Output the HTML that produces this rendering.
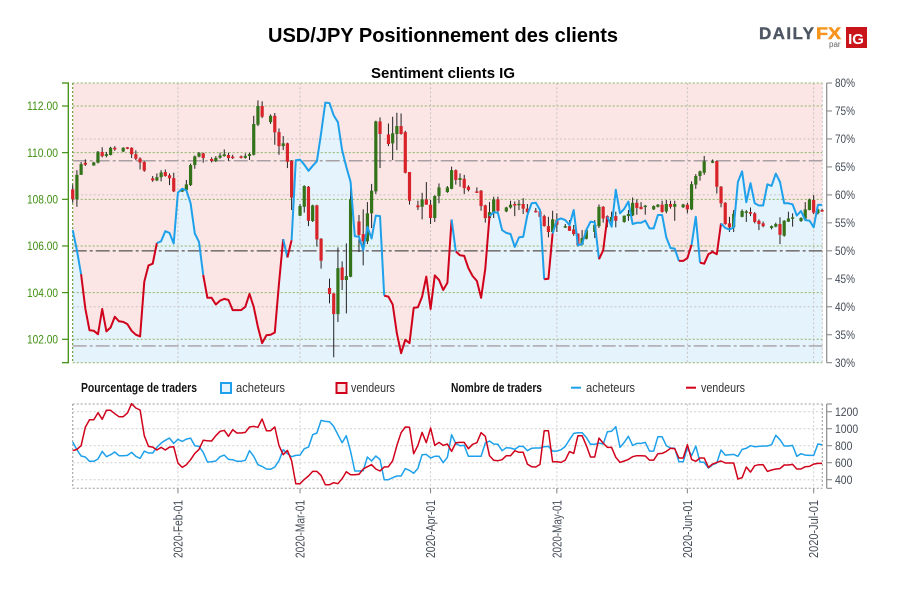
<!DOCTYPE html>
<html lang="fr">
<head>
<meta charset="utf-8">
<title>USD/JPY Positionnement des clients</title>
<style>
html,body{margin:0;padding:0;background:#fff;}
svg{display:block;}
text{font-family:"Liberation Sans Narrow","Liberation Sans",sans-serif;}
.ttl{font-family:"Liberation Sans",sans-serif;font-weight:bold;fill:#000;}
.lg{font-size:12.5px;fill:#333;}
.lgb{font-size:12.5px;font-weight:bold;fill:#111;}
</style>
</head>
<body>
<svg id="chart" xmlns="http://www.w3.org/2000/svg" width="900" height="600" viewBox="0 0 900 600">
  <rect width="900" height="600" fill="#fff"/>
  <text class="ttl" x="443" y="42" text-anchor="middle" font-size="20" textLength="350" lengthAdjust="spacingAndGlyphs">USD/JPY Positionnement des clients</text>
  <text class="ttl" x="443" y="78" text-anchor="middle" font-size="15" textLength="144" lengthAdjust="spacingAndGlyphs">Sentiment clients IG</text>
  <g>
    <text x="759" y="39" style="font-family:'Liberation Sans',sans-serif" font-weight="bold" font-size="17" fill="#4d5662" stroke="#4d5662" stroke-width="0.4" textLength="55">DAILY</text>
    <text x="816" y="39" style="font-family:'Liberation Sans',sans-serif" font-weight="bold" font-size="17" fill="#f7941d" stroke="#f7941d" stroke-width="0.5" textLength="25" lengthAdjust="spacingAndGlyphs">FX</text>
    <text x="829" y="47" style="font-family:'Liberation Sans',sans-serif" font-size="8" fill="#666">par</text>
    <rect x="846" y="27" width="21" height="21" fill="#c9141c"/>
    <text x="856" y="44" text-anchor="middle" style="font-family:'Liberation Sans',sans-serif" font-weight="bold" font-size="15" fill="#fff">IG</text>
  </g>
  <g id="main-plot"></g>
  <g id="legend">
    <text class="lgb" x="81" y="392" textLength="116" lengthAdjust="spacingAndGlyphs">Pourcentage de traders</text>
    <rect x="221" y="383" width="10" height="10" fill="#e5f3fc" stroke="#1ea1ea" stroke-width="2"/>
    <text class="lg" x="236" y="392" textLength="49" lengthAdjust="spacingAndGlyphs">acheteurs</text>
    <rect x="336.5" y="383" width="10" height="10" fill="#fbe5e5" stroke="#d0021b" stroke-width="2"/>
    <text class="lg" x="351" y="392" textLength="44" lengthAdjust="spacingAndGlyphs">vendeurs</text>
    <text class="lgb" x="451" y="392" textLength="91" lengthAdjust="spacingAndGlyphs">Nombre de traders</text>
    <line x1="571" x2="581" y1="387.7" y2="387.7" stroke="#1ea1ea" stroke-width="2"/>
    <text class="lg" x="586" y="392" textLength="49" lengthAdjust="spacingAndGlyphs">acheteurs</text>
    <line x1="686" x2="696" y1="387.7" y2="387.7" stroke="#d0021b" stroke-width="2"/>
    <text class="lg" x="701" y="392" textLength="44" lengthAdjust="spacingAndGlyphs">vendeurs</text>
  </g>
  <g id="lower-plot"></g>
</svg>
<script>
const startDate = '2020-01-07';
const tickDates = ['2020-02-01','2020-03-01','2020-04-01','2020-05-01','2020-06-01','2020-07-01'];
const tickLabels = ['2020-Feb-01','2020-Mar-01','2020-Apr-01','2020-May-01','2020-Jun-01','2020-Jul-01'];
const priceTicks = [112,110,108,106,104,102];
const percentTicks = [80,75,70,65,60,55,50,45,40,35,30];
const percentGrid = [70,60,40];
const percentRefLevels = [66.1,50,33];
const countTicks = [1200,1000,800,600,400];

const priceOpen = [
108.43,108.00,109.05,109.57,null,109.45,109.57,
110.03,109.86,109.90,110.21,null,110.05,110.23,
110.21,109.93,109.75,109.60,null,108.90,108.81,
108.95,109.17,109.03,108.91,null,108.33,108.40,
108.61,109.47,109.83,109.97,null,109.73,109.64,
109.78,109.85,109.90,109.83,null,109.84,109.78,
109.86,109.91,111.20,112.00,null,111.31,111.58,
110.88,110.28,110.40,109.65,null,107.30,107.68,
108.54,107.07,107.74,106.31,null,104.20,103.97,
103.08,105.08,104.54,104.68,null,107.05,106.51,
106.20,107.40,108.34,111.34,null,110.78,110.40,
110.80,111.14,110.88,109.17,null,107.74,107.68,
108.00,107.77,107.20,108.14,null,108.31,108.45,
109.25,108.83,108.88,108.54,null,108.34,108.37,
107.74,107.20,107.43,108.00,null,107.48,107.65,
107.80,107.77,107.80,107.60,null,107.51,107.48,
107.28,106.85,106.60,107.13,null,106.80,106.85,
106.71,106.53,106.06,106.31,null,106.60,106.85,
107.68,107.28,107.05,107.28,null,107.03,107.28,
107.31,107.85,107.68,107.71,null,107.57,107.68,
107.77,107.48,107.80,107.68,null,107.66,107.77,
107.57,108.63,109.00,109.14,null,109.57,109.64,
108.54,107.85,106.97,106.80,null,107.25,107.44,
107.45,107.40,107.08,106.97,null,106.77,106.83,
106.94,106.44,107.04,107.18,null,107.07,107.17,
107.54,107.97,107.40,107.54];
const priceHigh = [
108.63,109.25,109.60,109.71,null,109.61,110.07,
110.23,110.03,110.25,110.28,null,110.23,110.24,
110.23,110.10,109.80,109.63,null,109.00,109.11,
109.25,109.28,109.11,109.14,null,108.45,108.83,
109.53,109.88,110.03,110.00,null,109.80,109.85,
110.00,110.14,110.00,109.91,null,109.88,109.97,
110.00,111.58,112.24,112.20,null,111.64,111.70,
111.04,110.71,110.43,109.68,null,107.80,108.60,
108.57,107.77,107.77,106.34,null,104.60,103.97,
105.94,105.34,106.11,108.54,null,107.33,107.57,
107.88,108.66,111.37,111.51,null,111.25,111.54,
111.71,111.68,110.94,109.17,null,107.94,108.28,
108.74,107.97,108.17,108.68,null,108.57,109.40,
109.28,109.11,109.05,108.60,null,108.51,108.40,
107.77,107.88,108.11,108.11,null,107.68,107.94,
107.91,107.97,108.05,107.80,null,107.63,107.57,
107.34,107.25,107.51,107.40,null,106.94,107.11,
106.90,106.54,106.68,106.75,null,107.11,107.78,
107.71,107.31,107.47,107.47,null,107.31,107.54,
108.08,108.00,107.88,107.76,null,107.74,107.80,
107.94,107.97,107.94,107.94,null,107.81,107.85,
108.77,109.08,109.23,109.86,null,109.71,109.67,
108.57,107.88,107.25,107.54,null,107.57,107.54,
107.65,107.45,107.14,107.05,null,106.88,107.00,
107.23,107.11,107.47,107.40,null,107.23,107.88,
108.03,108.18,107.61,107.60];
const priceLow = [
107.85,107.68,109.05,109.43,null,109.44,109.54,
109.80,109.80,109.88,110.08,null,110.03,110.15,
109.77,109.68,109.28,109.18,null,108.75,108.78,
108.77,108.97,108.61,108.31,null,108.31,108.37,
108.57,109.31,109.80,109.57,null,109.58,109.60,
109.74,109.83,109.65,109.73,null,109.75,109.74,
109.68,109.88,111.14,111.48,null,111.23,110.34,
109.91,110.11,109.34,107.54,null,107.28,107.43,
106.85,107.03,105.97,105.03,null,103.54,101.23,
102.74,104.11,103.11,104.66,null,105.74,105.17,
106.08,106.77,108.23,109.34,null,110.28,109.68,
110.11,110.77,109.11,107.77,null,107.54,107.14,
107.77,106.94,107.03,107.83,null,108.28,108.43,
108.63,108.54,108.23,108.34,null,108.28,107.51,
107.00,107.17,107.20,107.45,null,107.45,107.60,
107.28,107.54,107.37,107.40,null,107.43,107.23,
106.83,106.37,106.57,106.60,null,106.77,106.65,
106.44,105.97,106.03,106.28,null,106.34,106.77,
107.00,106.80,107.00,106.80,null,107.00,107.08,
107.28,107.34,107.57,107.34,null,107.54,107.65,
107.43,107.40,107.60,107.08,null,107.63,107.40,
107.54,108.45,108.80,109.05,null,109.55,108.25,
107.66,106.91,106.60,106.60,null,107.23,107.03,
107.28,106.97,106.68,106.80,null,106.71,106.80,
106.08,106.40,107.03,106.83,null,107.03,107.15,
107.53,107.37,107.35,107.46];
const priceClose = [
108.00,109.05,109.51,109.48,null,109.58,110.04,
109.85,109.94,110.21,110.14,null,110.21,110.17,
109.93,109.74,109.58,109.23,null,108.81,108.95,
109.15,109.00,108.90,108.34,null,108.45,108.64,
109.47,109.84,109.98,109.77,null,109.64,109.78,
109.88,109.93,109.77,109.78,null,109.80,109.86,
109.94,111.23,112.00,111.54,null,111.58,110.87,
110.28,110.40,109.61,108.08,null,107.71,108.57,
107.08,107.74,106.28,105.37,null,103.94,103.08,
105.05,104.54,104.71,108.00,null,106.48,106.20,
107.40,108.37,111.34,110.80,null,110.37,110.83,
111.14,110.80,109.14,107.94,null,107.66,108.00,
107.77,107.20,108.14,108.51,null,108.51,109.25,
108.83,108.91,108.48,108.40,null,108.30,107.71,
107.20,107.45,108.00,107.51,null,107.65,107.77,
107.74,107.81,107.60,107.45,null,107.47,107.25,
106.85,106.60,107.14,106.91,null,106.85,106.65,
106.51,106.03,106.34,106.68,null,106.91,107.68,
107.18,107.05,107.25,107.08,null,107.30,107.37,
107.85,107.63,107.58,107.73,null,107.71,107.77,
107.46,107.80,107.68,107.80,null,107.78,107.57,
108.65,109.00,109.20,109.63,null,109.63,108.54,
107.83,106.94,106.80,107.38,null,107.50,107.48,
107.38,107.03,106.94,106.85,null,106.85,106.94,
106.48,107.08,107.18,107.23,null,107.20,107.57,
108.00,107.43,107.57,107.48];

const buyersPercent = [
53.7,50.1,45.8,39.7,35.8,35.7,35.1,39.6,35.6,36.3,38.2,37.4,37.3,36.9,35.7,35.0,34.7,44.5,47.4,47.7,
51.4,51.7,53.5,53.2,51.3,60.4,61.1,60.8,58.5,53.1,51.6,45.7,41.6,41.6,40.4,41.1,41.4,41.2,39.4,39.4,
39.4,40.0,42.3,40.0,36.4,33.5,34.9,35.0,35.4,44.2,52.1,48.8,51.9,66.2,66.3,65.4,64.3,65.2,66.0,71.0,
76.5,76.4,74.2,73.0,68.0,65.0,62.3,52.6,52.5,50.1,54.3,52.2,56.3,56.2,42.0,41.8,40.4,35.2,31.7,34.1,
33.5,39.8,39.9,41.8,45.4,39.6,45.6,44.8,43.0,44.3,55.6,49.9,49.2,49.1,46.9,45.5,44.6,41.6,46.8,56.2,
56.9,56.8,53.7,53.2,53.0,50.7,52.4,52.5,56.4,58.5,58.6,57.3,44.9,45.0,53.1,55.5,55.8,55.5,54.6,57.3,
51.0,51.2,53.7,55.2,55.1,48.5,50.1,56.1,54.3,60.9,56.7,57.5,58.8,54.8,55.0,55.0,55.4,54.0,54.0,56.4,
56.4,52.4,50.5,50.4,48.2,48.2,48.7,51.1,56.1,47.9,47.7,49.4,49.8,49.4,54.9,54.1,53.8,54.2,62.3,64.2,
58.7,62.1,58.5,58.1,58.1,61.9,61.6,63.8,62.3,58.5,58.5,58.3,56.3,57.1,55.5,55.4,54.2,58.2,58.2];
const sellerLedSpans = [[2,20],[31,50],[51,52],[74,90],[91,99],[112,114],[125,127],[144,147],[149,154]];

const buyersCount = [
843,753,679,667,616,616,643,733,671,694,726,682,682,686,722,675,651,737,714,714,
780,831,863,890,827,875,851,878,890,800,792,722,608,612,620,671,690,639,635,616,
616,628,741,675,577,557,526,522,549,624,753,706,671,686,690,765,784,929,949,1098,
1086,1082,1027,929,835,918,733,502,502,506,667,620,679,639,400,400,424,443,443,530,
510,475,533,694,698,655,675,675,600,663,929,824,800,804,675,675,675,675,831,855,
820,816,741,777,773,757,792,792,741,769,773,773,788,792,737,737,753,792,871,945,
953,953,898,816,816,831,820,965,969,1023,780,839,910,804,827,827,839,737,737,906,
906,800,773,769,612,612,773,682,796,608,604,537,577,596,749,690,694,698,675,757,
769,800,788,792,796,796,812,922,871,796,796,804,675,706,690,686,686,820,812];
const sellersCount = [
741,757,800,1016,1106,1106,1188,1110,1216,1216,1176,1141,1141,1184,1294,1243,1220,918,792,784,
749,780,749,784,788,596,545,577,635,710,757,863,859,855,918,969,980,910,988,949,
949,957,1020,1027,1016,1114,976,976,1020,800,694,745,624,353,353,404,443,498,498,451,
341,341,365,353,412,494,459,459,463,526,553,577,526,502,549,553,624,804,953,1020,
1016,706,804,957,835,1008,804,839,804,820,733,835,839,839,765,816,835,953,910,682,
628,624,635,682,682,741,722,722,584,553,549,580,976,976,612,612,604,631,730,710,
918,918,804,667,667,890,831,780,780,663,604,620,639,671,682,682,679,631,631,706,
710,733,769,765,655,655,812,639,616,655,655,545,584,604,620,596,596,596,408,424,
549,490,565,577,577,498,514,526,530,573,573,580,526,526,553,557,584,592,592];

const NS = 'http://www.w3.org/2000/svg';
const PLOT_L = 72.7, PLOT_R = 822.3, DAY_PX = 4.21;
const MAIN_T = 83, MAIN_B = 362.7, LOW_T = 404, LOW_B = 488.3;
const BLUE = '#1ea1ea', RED = '#d0021b';
const CANDLE_GREEN = '#33731a', CANDLE_RED = '#d8232a', GRID_GREEN = '#8ab565', GRID_GREY = '#c9c3c3';
const AXIS_GREEN = '#3f8f10', AXIS_GREY = '#8a8a8a', LABEL_GREY = '#444c56';

function xDay(d){ return PLOT_L + d * DAY_PX; }
function yPrice(p){ return 106 + (112 - p) * 23.33; }
function yPercent(p){ return MAIN_T + (80 - p) * (MAIN_B - MAIN_T) / 50; }
function yCount(v){ return 411.7 + (1200 - v) * 0.0850; }
function dayOf(dateStr){ return Math.round((Date.parse(dateStr) - Date.parse(startDate)) / 86400000); }

function mk(parent, tag, attrs, txt){
  const el = document.createElementNS(NS, tag);
  for (const k in attrs) el.setAttribute(k, attrs[k]);
  if (txt !== undefined) el.textContent = txt;
  parent.appendChild(el);
  return el;
}
const main = document.getElementById('main-plot');
const low = document.getElementById('lower-plot');

/* ---------- main panel fills ---------- */
const pink = mk(main, 'rect', {x:PLOT_L, y:MAIN_T, width:PLOT_R-PLOT_L, height:MAIN_B-MAIN_T, fill:'#fbe5e5'});


let areaPts = PLOT_L + ',' + MAIN_B + ' ';
buyersPercent.forEach((v, i) => { areaPts += xDay(i).toFixed(1) + ',' + yPercent(v).toFixed(1) + ' '; });
areaPts += xDay(buyersPercent.length - 1).toFixed(1) + ',' + MAIN_B;
const blueArea = mk(main, 'polygon', {points:areaPts, fill:'#e5f3fc'});



/* ---------- main grid ---------- */
percentGrid.forEach(p => {
  const l = mk(main, 'line', {x1:PLOT_L, x2:PLOT_R, y1:yPercent(p), y2:yPercent(p), stroke:GRID_GREY, 'stroke-dasharray':'2 2.2'});
  
  
});
priceTicks.forEach(p => {
  const l = mk(main, 'line', {x1:PLOT_L, x2:PLOT_R, y1:yPrice(p), y2:yPrice(p), stroke:GRID_GREEN, 'stroke-dasharray':'2 2'});
  
  
});
tickDates.forEach(t => {
  const l = mk(main, 'line', {x1:xDay(dayOf(t)), x2:xDay(dayOf(t)), y1:MAIN_T, y2:MAIN_B, stroke:GRID_GREY, 'stroke-dasharray':'2 2.2'});
  
  
});
[MAIN_T, MAIN_B].forEach(y => {
  const l = mk(main, 'line', {x1:PLOT_L, x2:PLOT_R, y1:y, y2:y, stroke:GRID_GREEN, 'stroke-dasharray':'2 2'});
  
  
});
const leftBorder = mk(main, 'line', {x1:PLOT_L, x2:PLOT_L, y1:MAIN_T, y2:MAIN_B, stroke:'#4f8f20', 'stroke-dasharray':'2 2'});


const rightBorder = mk(main, 'line', {x1:PLOT_R, x2:PLOT_R, y1:MAIN_T, y2:MAIN_B, stroke:GRID_GREY, 'stroke-dasharray':'2 2.2'});



/* ---------- reference levels ---------- */
percentRefLevels.forEach(p => {
  const l = mk(main, 'line', {x1:PLOT_L, x2:PLOT_R, y1:yPercent(p), y2:yPercent(p), stroke:p === 50 ? '#7a7676' : '#a8a0a2', 'stroke-width':p === 50 ? 1.7 : 1.4, 'stroke-dasharray':'14 3 3 3'});
  
  
});

/* ---------- candles ---------- */
priceOpen.forEach((o, i) => {
  if (o === null) return;
  const c = priceClose[i], x = xDay(i);
  const wick = mk(main, 'line', {x1:x, x2:x, y1:yPrice(priceHigh[i]), y2:yPrice(priceLow[i]), stroke:'#222', 'stroke-width':1});
  
  
  const top = Math.min(yPrice(o), yPrice(c)), h = Math.max(1.5, Math.abs(yPrice(o) - yPrice(c)));
  const body = mk(main, 'rect', {x:x - 1.6, y:top, width:3.2, height:h, fill:c >= o ? CANDLE_GREEN : CANDLE_RED});
  
  
});

/* ---------- sentiment line ---------- */
function sellerLed(i){ return sellerLedSpans.some(s => i > s[0] && i <= s[1]); }
let runStart = 0;
for (let i = 1; i <= buyersPercent.length; i++) {
  if (i === buyersPercent.length || sellerLed(i) !== sellerLed(runStart + 1)) {
    let pts = '';
    for (let j = runStart; j < i; j++) pts += xDay(j).toFixed(1) + ',' + yPercent(buyersPercent[j]).toFixed(1) + ' ';
    const seg = mk(main, 'polyline', {points:pts, fill:'none', stroke:sellerLed(runStart + 1) ? RED : BLUE, 'stroke-width':2, 'stroke-linejoin':'round'});
    
    
    runStart = i - 1;
  }
}

/* ---------- main axes ---------- */
const leftAxis = mk(main, 'line', {x1:68.3, x2:68.3, y1:MAIN_T, y2:MAIN_B, stroke:AXIS_GREEN, 'stroke-width':1.3});


[MAIN_T, MAIN_B].forEach(y => {
  const t = mk(main, 'line', {x1:62, x2:69, y1:y, y2:y, stroke:AXIS_GREEN, 'stroke-width':1.3});
  
  
});
priceTicks.forEach(p => {
  const t = mk(main, 'line', {x1:62, x2:68, y1:yPrice(p), y2:yPrice(p), stroke:AXIS_GREEN, 'stroke-width':1.2});
  
  
  const lb = mk(main, 'text', {x:58, y:yPrice(p) + 4.2, 'text-anchor':'end', 'font-size':12, fill:AXIS_GREEN, textLength:31, lengthAdjust:'spacingAndGlyphs'}, p.toFixed(2));
  
  
});
const rightAxis = mk(main, 'line', {x1:826.7, x2:826.7, y1:MAIN_T, y2:MAIN_B, stroke:AXIS_GREY, 'stroke-width':1.2});


percentTicks.forEach(p => {
  const t = mk(main, 'line', {x1:826.7, x2:832, y1:yPercent(p), y2:yPercent(p), stroke:AXIS_GREY, 'stroke-width':1.1});
  
  
  const lb = mk(main, 'text', {x:835, y:yPercent(p) + 4.2, 'font-size':12, fill:LABEL_GREY, textLength:20, lengthAdjust:'spacingAndGlyphs'}, p + '%');
  
  
});

/* ---------- lower panel ---------- */
countTicks.forEach(v => {
  const l = mk(low, 'line', {x1:PLOT_L, x2:PLOT_R, y1:yCount(v), y2:yCount(v), stroke:'#cfcfcf', 'stroke-dasharray':'2 2.2'});
  
  
});
[LOW_T, LOW_B].forEach(y => {
  const l = mk(low, 'line', {x1:PLOT_L, x2:PLOT_R, y1:y, y2:y, stroke:'#9a9a9a', 'stroke-dasharray':'2 2'});
  
  
});
[PLOT_L, PLOT_R].forEach(x => {
  const l = mk(low, 'line', {x1:x, x2:x, y1:LOW_T, y2:LOW_B, stroke:'#9a9a9a', 'stroke-dasharray':'2 2'});
  
  
});
tickDates.forEach((t, k) => {
  const x = xDay(dayOf(t));
  const l = mk(low, 'line', {x1:x, x2:x, y1:LOW_T, y2:LOW_B, stroke:'#cfcfcf', 'stroke-dasharray':'2 2.2'});
  
  
  const tk = mk(low, 'line', {x1:x, x2:x, y1:LOW_B, y2:LOW_B + 5, stroke:AXIS_GREY, 'stroke-width':1.1});
  
  
  const lb = mk(low, 'text', {x:0, y:0, transform:'translate(' + (x + 4.5) + ',500) rotate(-90)', 'text-anchor':'end', 'font-size':12.5, fill:LABEL_GREY, textLength:58, lengthAdjust:'spacingAndGlyphs'}, tickLabels[k]);
  
  
});
function countPoints(arr){ return arr.map((v, i) => xDay(i).toFixed(1) + ',' + yCount(v).toFixed(1)).join(' '); }
const buyersLine = mk(low, 'polyline', {points:countPoints(buyersCount), fill:'none', stroke:BLUE, 'stroke-width':1.5, 'stroke-linejoin':'round'});


const sellersLine = mk(low, 'polyline', {points:countPoints(sellersCount), fill:'none', stroke:RED, 'stroke-width':1.5, 'stroke-linejoin':'round'});


const countAxis = mk(low, 'line', {x1:826.7, x2:826.7, y1:LOW_T, y2:LOW_B, stroke:AXIS_GREY, 'stroke-width':1.2});


[LOW_T, LOW_B].forEach(y => {
  const t = mk(low, 'line', {x1:826.7, x2:832, y1:y, y2:y, stroke:AXIS_GREY, 'stroke-width':1.1});
  
  
});
countTicks.forEach(v => {
  const t = mk(low, 'line', {x1:826.7, x2:832, y1:yCount(v), y2:yCount(v), stroke:AXIS_GREY, 'stroke-width':1.1});
  
  
  const lb = mk(low, 'text', {x:835, y:yCount(v) + 4.2, 'font-size':12, fill:LABEL_GREY, textLength:String(v).length * 5.8, lengthAdjust:'spacingAndGlyphs'}, String(v));
  
  
});
</script>
</body>
</html>
